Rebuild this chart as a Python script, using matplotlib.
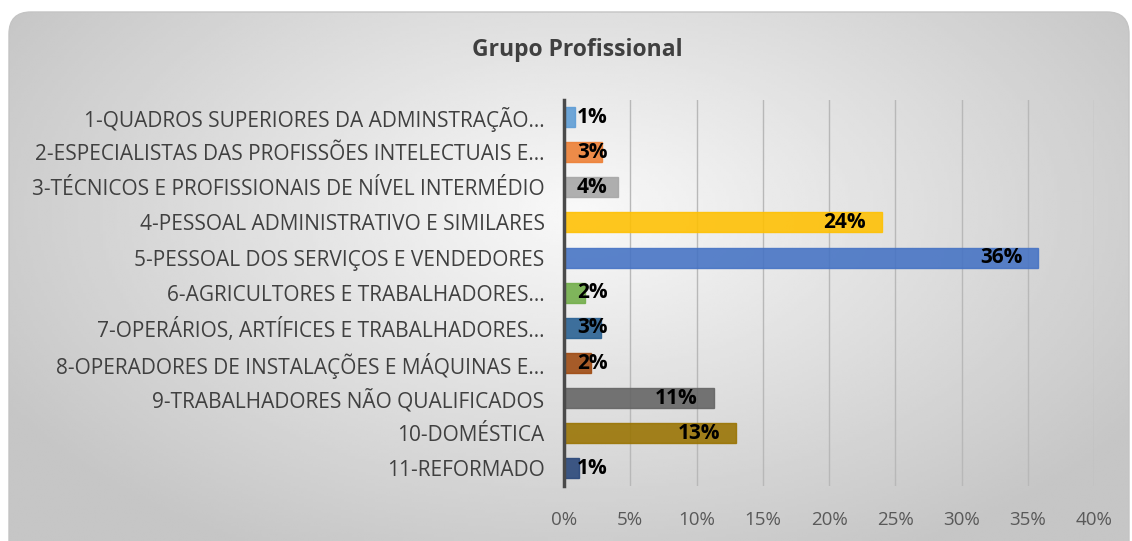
import numpy as np
from matplotlib import pyplot as plt
from matplotlib.patches import FancyBboxPatch
from matplotlib.ticker import PercentFormatter

categories = [
    "1-QUADROS SUPERIORES DA ADMINSTRAÇÃO…",
    "2-ESPECIALISTAS DAS PROFISSÕES INTELECTUAIS E…",
    "3-TÉCNICOS E PROFISSIONAIS DE NÍVEL INTERMÉDIO",
    "4-PESSOAL ADMINISTRATIVO E SIMILARES",
    "5-PESSOAL DOS SERVIÇOS E VENDEDORES",
    "6-AGRICULTORES E TRABALHADORES…",
    "7-OPERÁRIOS, ARTÍFICES E TRABALHADORES…",
    "8-OPERADORES DE INSTALAÇÕES E MÁQUINAS E…",
    "9-TRABALHADORES NÃO QUALIFICADOS",
    "10-DOMÉSTICA",
    "11-REFORMADO",
]
shares = [0.0085, 0.029, 0.041, 0.240, 0.358, 0.016, 0.028, 0.020, 0.113, 0.130, 0.011]
bar_colors = [
    "#5B9BD5", "#ED7D31", "#A5A5A5", "#FFC000", "#4472C4", "#70AD47",
    "#255E91", "#9E480E", "#636363", "#997300", "#264478",
]
x_ticks = [0, 0.05, 0.10, 0.15, 0.20, 0.25, 0.30, 0.35, 0.40]
title = "Grupo Profissional"

plt.rcParams["font.family"] = ["Open Sans", "DejaVu Sans"]

W, H = 1132, 541
fig = plt.figure(figsize=(W / 100, H / 100), dpi=100)

# background: rounded box with radial gray gradient
bg = fig.add_axes([0, 0, 1, 1], zorder=0)
bg.set_xlim(0, W)
bg.set_ylim(0, H)
bg.axis("off")
xx, yy = np.meshgrid(np.linspace(0, W, 400), np.linspace(0, H, 200))
r = np.sqrt(((xx - 580) / 570) ** 2 + ((yy - 330) / 330) ** 2)
shade = np.clip(0.975 - 0.17 * r, 0.775, 1.0)
box = FancyBboxPatch(
    (9, -30), W - 12, H + 30 - 12,
    boxstyle="round,pad=0,rounding_size=22",
    facecolor="none", edgecolor="#c4c4c4", linewidth=1.0,
)
bg.add_patch(box)
img = bg.imshow(
    shade, extent=(0, W, 0, H), origin="lower", cmap="gray",
    vmin=0, vmax=1, aspect="auto", interpolation="bilinear",
)
img.set_clip_path(box)

ax = fig.add_axes([564 / W, 55 / H, 530 / W, 386.5 / H], zorder=1)
ax.set_facecolor("none")

y = np.arange(len(categories))
ax.barh(
    y, shares, height=0.57, color=bar_colors, alpha=0.88,
    edgecolor=bar_colors, linewidth=1.0, zorder=2,
)

# labels at inside end, but never closer to the axis than the label width
for yi, v in zip(y, shares):
    ax.text(
        max(v - 0.012, 0.033), yi, f"{v:.0%}",
        ha="right", va="center", fontsize=15, fontweight="bold",
        color="black", zorder=3,
    )

ax.set_xlim(0, 0.40)
ax.set_ylim(len(categories) - 0.5, -0.5)
ax.set_xticks(x_ticks)
ax.xaxis.set_major_formatter(PercentFormatter(1.0, decimals=0))
ax.set_yticks(y)
ax.set_yticklabels(categories)
ax.tick_params(axis="y", length=0, pad=14, labelsize=15, labelcolor="#404040")
ax.tick_params(axis="x", length=0, pad=18, labelsize=13.5, labelcolor="#595959")
ax.grid(axis="x", color="#b8b8b8", linewidth=1.0, zorder=0)
ax.set_axisbelow(True)
for side in ["top", "right", "bottom"]:
    ax.spines[side].set_visible(False)
ax.spines["left"].set_color("#4a4a4a")
ax.spines["left"].set_linewidth(2.5)
ax.spines["left"].set_zorder(4)

fig.text(577 / W, 1 - 50 / H, title, ha="center", va="center",
         fontsize=16.5, fontweight="bold", color="#404040")

fig.savefig("out.png", dpi=100)
